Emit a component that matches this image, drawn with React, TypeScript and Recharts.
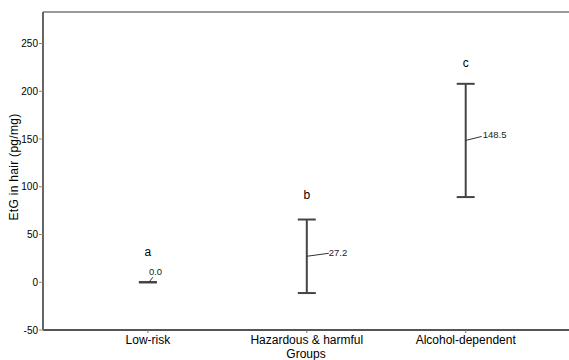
import React from 'react';
import { ScatterChart, Scatter, XAxis, YAxis, ErrorBar, ReferenceLine } from 'recharts';

const categories = ['Low-risk', 'Hazardous & harmful', 'Alcohol-dependent'];
const means = [0.0, 27.2, 148.5];
const ciHalf = [0.2, 38.5, 59.3];
const groupLetters = ['a', 'b', 'c'];
const letterY = [28, 87, 225];
const yTicks = [-50, 0, 50, 100, 150, 200, 250];
const yDomain: [number, number] = [-50, 283];
const xDomain: [number, number] = [-0.66, 2.65];

const meanData = categories.map((c, i) => ({ x: i, y: means[i], err: ciHalf[i], name: c }));
const letterData = categories.map((c, i) => ({ x: i, y: letterY[i], letter: groupLetters[i] }));

const FONT = '"Liberation Sans", Arial, sans-serif';

// leader-line styling per group: [lineStartDx, lineStartDy, lineEndDx, lineEndDy, textDx, textDy]
const leader = [
  [1, 0, 5, -5, 1, -7],
  [0, 0, 22, -3, 22, -0.5],
  [0, 0, 16, -4, 17, -2],
];

const MeanShape = (props: any) => {
  const { cx, cy, payload } = props;
  if (cx == null || cy == null) return null;
  const l = leader[payload.x];
  return (
    <g>
      <line x1={cx + l[0]} y1={cy + l[1]} x2={cx + l[2]} y2={cy + l[3]} stroke="#333" strokeWidth={1} />
      <text x={cx + l[4]} y={cy + l[5]} fontSize={9.5} fontFamily={FONT} fill="#222">
        {payload.y.toFixed(1)}
      </text>
    </g>
  );
};

const LetterShape = (props: any) => {
  const { cx, cy, payload } = props;
  if (cx == null || cy == null) return null;
  return (
    <text x={cx} y={cy} fontSize={12} fontFamily={FONT} fill="#000" textAnchor="middle">
      {payload.letter}
    </text>
  );
};

const YLabel = (props: any) => {
  const vb = props.viewBox || {};
  const cy = (vb.y ?? 12) + (vb.height ?? 318) / 2 - 4;
  const x = 17.5;
  return (
    <text
      x={x}
      y={cy}
      transform={`rotate(-90, ${x}, ${cy})`}
      textAnchor="middle"
      fontSize={12}
      letterSpacing={0.3}
      fontFamily={FONT}
      fill="#000"
    >
      EtG in hair (pg/mg)
    </text>
  );
};

export default function App() {
  return (
    <div style={{ position: 'absolute', left: 0, top: 0, width: 569, height: 360, background: '#fff' }}>
      <ScatterChart width={569} height={360} margin={{ top: 12, right: 0, bottom: 0, left: 0 }}>
        <XAxis
          type="number"
          dataKey="x"
          domain={xDomain}
          ticks={[0, 1, 2]}
          tickFormatter={(v: number) => categories[v] ?? ''}
          height={30}
          tickSize={3}
          tickMargin={2}
          interval={0}
          axisLine={{ stroke: '#555', strokeWidth: 2 }}
          tickLine={{ stroke: '#777', strokeWidth: 1 }}
          tick={{ fontSize: 12, fill: '#000', fontFamily: FONT }}
          allowDataOverflow
          label={{ value: 'Groups', position: 'insideBottom', offset: 2, fontSize: 12, fill: '#000', fontFamily: FONT }}
        />
        <YAxis
          type="number"
          dataKey="y"
          domain={yDomain}
          ticks={yTicks}
          width={43}
          tickSize={4}
          tickMargin={1}
          interval={0}
          allowDataOverflow
          axisLine={{ stroke: '#666', strokeWidth: 2 }}
          tickLine={{ stroke: '#888', strokeWidth: 1 }}
          tick={{ fontSize: 10, fill: '#000', fontFamily: FONT }}
          label={<YLabel />}
        />
        <ReferenceLine y={yDomain[1]} stroke="#999" strokeWidth={2} />
        <Scatter data={meanData} shape={<MeanShape />} isAnimationActive={false}>
          <ErrorBar dataKey="err" direction="y" width={9} stroke="#444" strokeWidth={2} isAnimationActive={false} />
        </Scatter>
        <Scatter data={letterData} shape={<LetterShape />} isAnimationActive={false} />
      </ScatterChart>
    </div>
  );
}
